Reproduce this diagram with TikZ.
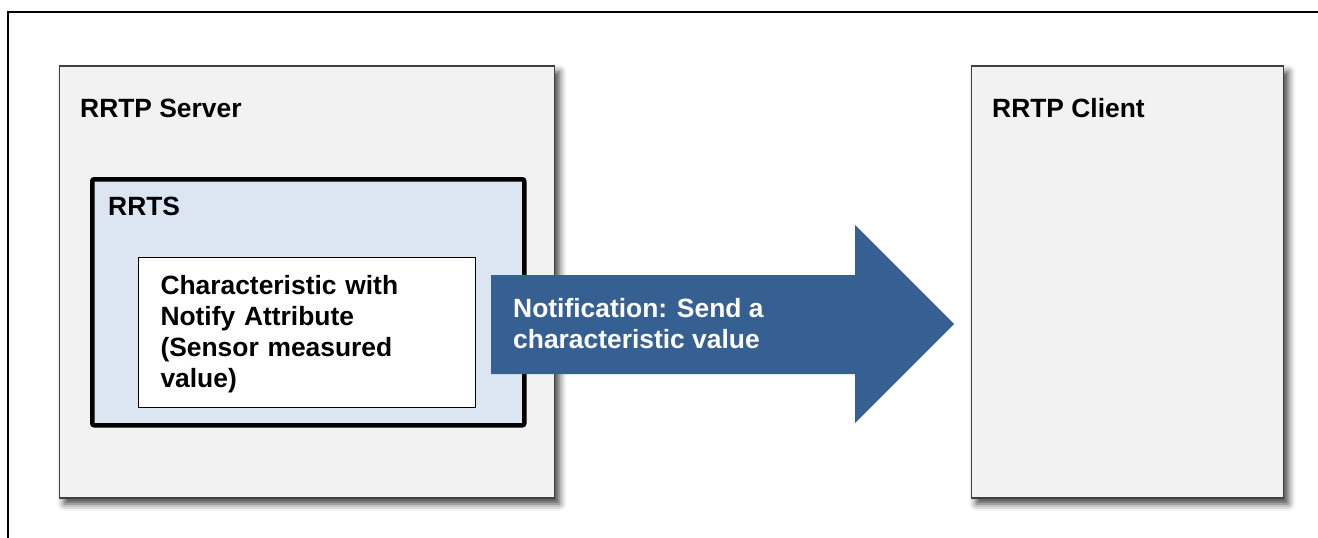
\documentclass[tikz,border=0pt]{standalone}
\usepackage{fontspec}
\setmainfont{Liberation Sans}
\usetikzlibrary{shadows,shadows.blur,positioning,calc}
\definecolor{panelgray}{RGB}{242,242,242}
\definecolor{rrtsblue}{RGB}{220,230,242}
\definecolor{notifyblue}{RGB}{55,96,146}

\begin{document}
\begin{tikzpicture}
    [x=1pt,y=-1pt,every node/.style={font=\fontsize{26.4}{31}\selectfont\bfseries,inner sep=0pt},
     panel/.style={rectangle,draw=black!75,line width=1.5pt,fill=panelgray,anchor=north west,
        blur shadow={shadow xshift=5pt,shadow yshift=-6pt,shadow blur radius=7pt,shadow opacity=75}},
     title/.style={anchor=base west,text=black}]
    \useasboundingbox (0,0) rectangle (1318,538);

    % outer frame
    \draw[line width=2pt] (8,538) -- (8,12) -- (1318,12);

    \node[panel,minimum width=495pt,minimum height=432pt] (Srv) at (58.5,65) {};
    \node[panel,minimum width=312pt,minimum height=432pt] (Cli) at (970.5,65) {};
    \node[title] (SrvT) at (80,117) {RRTP Server};
    \node[title] (CliT) at (992,117) {RRTP Client};

    \node[rectangle,rounded corners=2pt,draw=black,line width=4.5pt,fill=rrtsblue,anchor=north west,
        minimum width=432pt,minimum height=246pt] (Rrts) at (90,177) {};
    \node[title] (RrtsT) at (108,215) {RRTS};

    \node[rectangle,draw=black,line width=1pt,fill=white,anchor=north west,align=left,
        minimum width=337pt,minimum height=150pt,text width=293pt,inner xsep=22pt] (Chr) at (138,257)
        {\rule{0pt}{22pt}Characteristic with\\Notify Attribute\\(Sensor measured\\value)};

    % notification arrow
    \fill[notifyblue] (491,275) -- (855,275) -- (855,225) -- (954,324) -- (855,423) -- (855,374) -- (491,374) -- cycle;
    \node[anchor=base west,align=left,text=white] (Ntf) at (513,348) {Notification: Send a\\characteristic value};
\end{tikzpicture}
\end{document}
